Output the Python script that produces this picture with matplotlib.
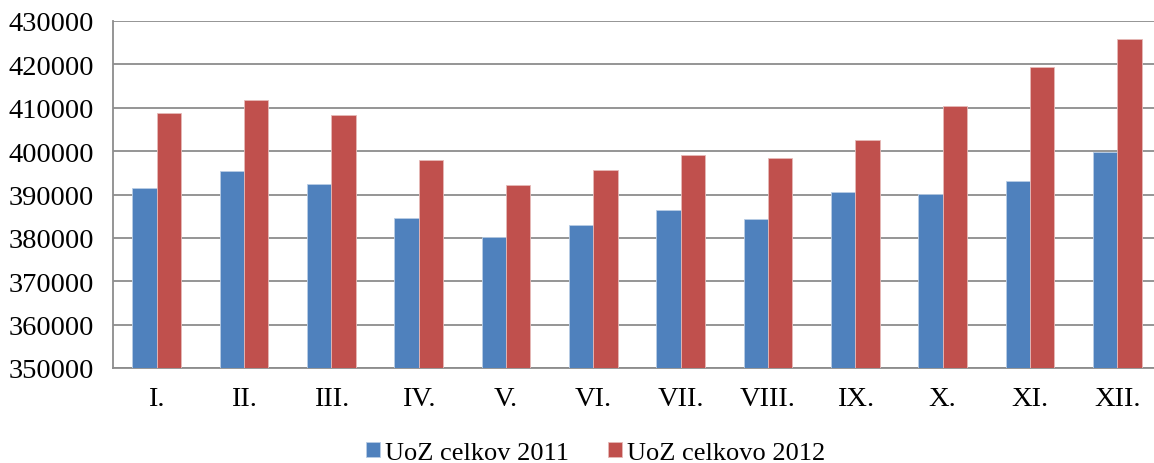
import matplotlib.pyplot as plt
import numpy as np

months = ['I.', 'II.', 'III.', 'IV.', 'V.', 'VI.', 'VII.', 'VIII.', 'IX.', 'X.', 'XI.', 'XII.']
uoz_2011 = [391600, 395500, 392500, 384500, 380100, 383000, 386400, 384300, 390500, 390150, 393100, 399800]
uoz_2012 = [408800, 411800, 408400, 397900, 392300, 395700, 399200, 398400, 402500, 410300, 419300, 425850]

plt.rcParams['font.family'] = ['Liberation Serif', 'DejaVu Serif']

fig = plt.figure(figsize=(11.54, 4.64), dpi=100)
# right edge of plot area runs slightly past the picture, as in the original
ax = fig.add_axes([113 / 1154, 1 - 369 / 464, (1161 - 113) / 1154, (369 - 22) / 464])

x = np.arange(len(months))
w = 0.28
ax.bar(x - w / 2, uoz_2011, w, color='#4F81BD', edgecolor='#B9CDE5', linewidth=0.6,
       label='UoZ celkov 2011', zorder=3)
ax.bar(x + w / 2, uoz_2012, w, color='#C0504D', edgecolor='#E6B9B8', linewidth=0.6,
       label='UoZ celkovo 2012', zorder=3)

ax.set_xlim(-0.5, len(months) - 0.5)
ax.set_ylim(350000, 430000)
ax.set_yticks(np.arange(350000, 430001, 10000))
ax.set_xticks(x)
ax.set_xticklabels(months)
ax.tick_params(axis='both', length=0, labelsize=20.5, colors='black')
ax.tick_params(axis='x', pad=13)
ax.tick_params(axis='y', pad=13.5)
ax.grid(axis='y', color='#8C8C8C', linewidth=1.3, zorder=0)

for side in ['top', 'right']:
    ax.spines[side].set_visible(False)
for side in ['left', 'bottom']:
    ax.spines[side].set_color('#8C8C8C')
    ax.spines[side].set_linewidth(1.3)

fig.legend(loc='center', bbox_to_anchor=(595.5 / 1154, 1 - 454 / 464), ncol=2, frameon=False,
           fontsize=19, handlelength=0.53, handleheight=0.53, handletextpad=0.19, columnspacing=1.5)

fig.savefig('out.png', dpi=100)
